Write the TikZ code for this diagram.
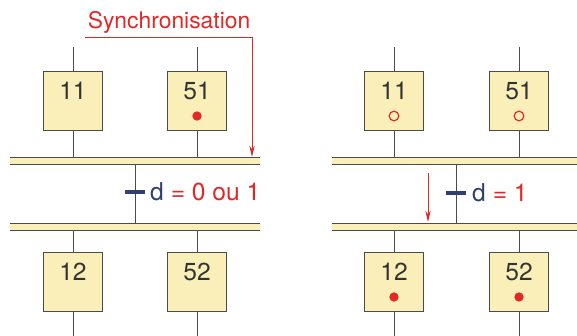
\documentclass[tikz,border=0pt]{standalone}
\usepackage{fontspec}
\setmainfont{TeX Gyre Heros}
\usetikzlibrary{arrows.meta}
\definecolor{stepfill}{RGB}{250,239,184}
\definecolor{linegray}{RGB}{75,75,75}
\definecolor{syncred}{RGB}{228,38,38}
\definecolor{recvblue}{RGB}{50,62,112}
\begin{document}
\begin{tikzpicture}[
       x = 0.03cm, y = -0.03cm,
      link/.style = {draw=linegray, line width=0.6pt},
  steptext/.style = {yshift=0.3cm, text=black!80, font=\fontsize{21}{24}\selectfont},
   stepbox/.style = {link, fill=stepfill, minimum size=1.77cm, inner sep=0pt,
                     label={[steptext]center:#1}},
 activestep/.style = {label={[circle, fill=syncred, inner sep=0pt,
                     minimum size=0.28cm, yshift=-0.45cm]center:}},
  readystep/.style = {label={[circle, draw=syncred, line width=1pt, inner sep=0pt,
                     minimum size=0.29cm, yshift=-0.45cm]center:}},
     recv/.style = {draw=recvblue, line width=2.8pt},
  redarrow/.style = {draw=syncred, line width=0.8pt,
                     -{Stealth[length=3.4mm, width=1.6mm]}}
                        ]
    % Page size
    \useasboundingbox (0,0) rectangle (577,336);

    % Double bars (yellow band between two lines)
    \fill[stepfill] (10,157) rectangle (260,164);
    \fill[stepfill] (10,223) rectangle (260,230);
    \fill[stepfill] (332,157) rectangle (577,164);
    \fill[stepfill] (332,223) rectangle (577,230);
    \foreach \y in {157,164,223,230} {
        \draw[link] (10,\y) -- (260,\y);
        \draw[link] (332,\y) -- (577,\y);
    }

    % Left: steps
    \node (L11) at (73,101) [stepbox=11] {};
    \node (L51) at (197,101) [stepbox=51, activestep] {};
    \node (L12) at (73,282) [stepbox=12] {};
    \node (L52) at (197,282) [stepbox=52] {};

    % Right: steps
    \node (R11) at (394,101) [stepbox=11, readystep] {};
    \node (R51) at (519,101) [stepbox=51, readystep] {};
    \node (R12) at (394,282) [stepbox=12, activestep] {};
    \node (R52) at (519,282) [stepbox=52, activestep] {};

    % Links to the bars
    \foreach \s in {L11,L51,R11,R51} {
        \draw[link] (\s |- 0,47) -- (\s);
        \draw[link] (\s) -- (\s |- 0,157);
    }
    \foreach \s in {L12,L52,R12,R52} {
        \draw[link] (\s |- 0,230) -- (\s);
        \draw[link] (\s) -- (\s |- 0,336);
    }
    \coordinate (Lt) at (135,164);
    \coordinate (Lb) at (135,223);
    \coordinate (Rt) at (456,164);
    \coordinate (Rb) at (456,223);
    \draw[link] (Lt) -- (Lb);
    \draw[link] (Rt) -- (Rb);

    % Transitions
    \coordinate (Ltr) at (135,192);
    \coordinate (Rtr) at (456,193);
    \draw[recv] ([xshift=-0.3cm]Ltr) -- ([xshift=0.3cm]Ltr);
    \draw[recv] ([xshift=-0.3cm]Rtr) -- ([xshift=0.3cm]Rtr);
    \node (Lcond) at (150,192) [anchor=west, inner sep=0pt,
        font=\fontsize{21}{24}\selectfont]
        {\textcolor{recvblue}{d} \textcolor{syncred}{= 0 ou 1}};
    \node (Rcond) at (472,193) [anchor=west, inner sep=0pt,
        font=\fontsize{21}{24}\selectfont]
        {\textcolor{recvblue}{d} \textcolor{syncred}{= 1}};

    % Synchronisation label and arrows
    \node (sync) at (169,22) [text=syncred, font=\fontsize{19.5}{22}\selectfont]
        {Synchronisation};
    \coordinate (syncA) at (85,37);
    \coordinate (syncB) at (252,157);
    \draw[redarrow] (syncA) -| (syncB);
    \coordinate (fireA) at (428,173);
    \coordinate (fireB) at (428,222);
    \draw[redarrow] (fireA) -- (fireB);
\end{tikzpicture}
\end{document}
